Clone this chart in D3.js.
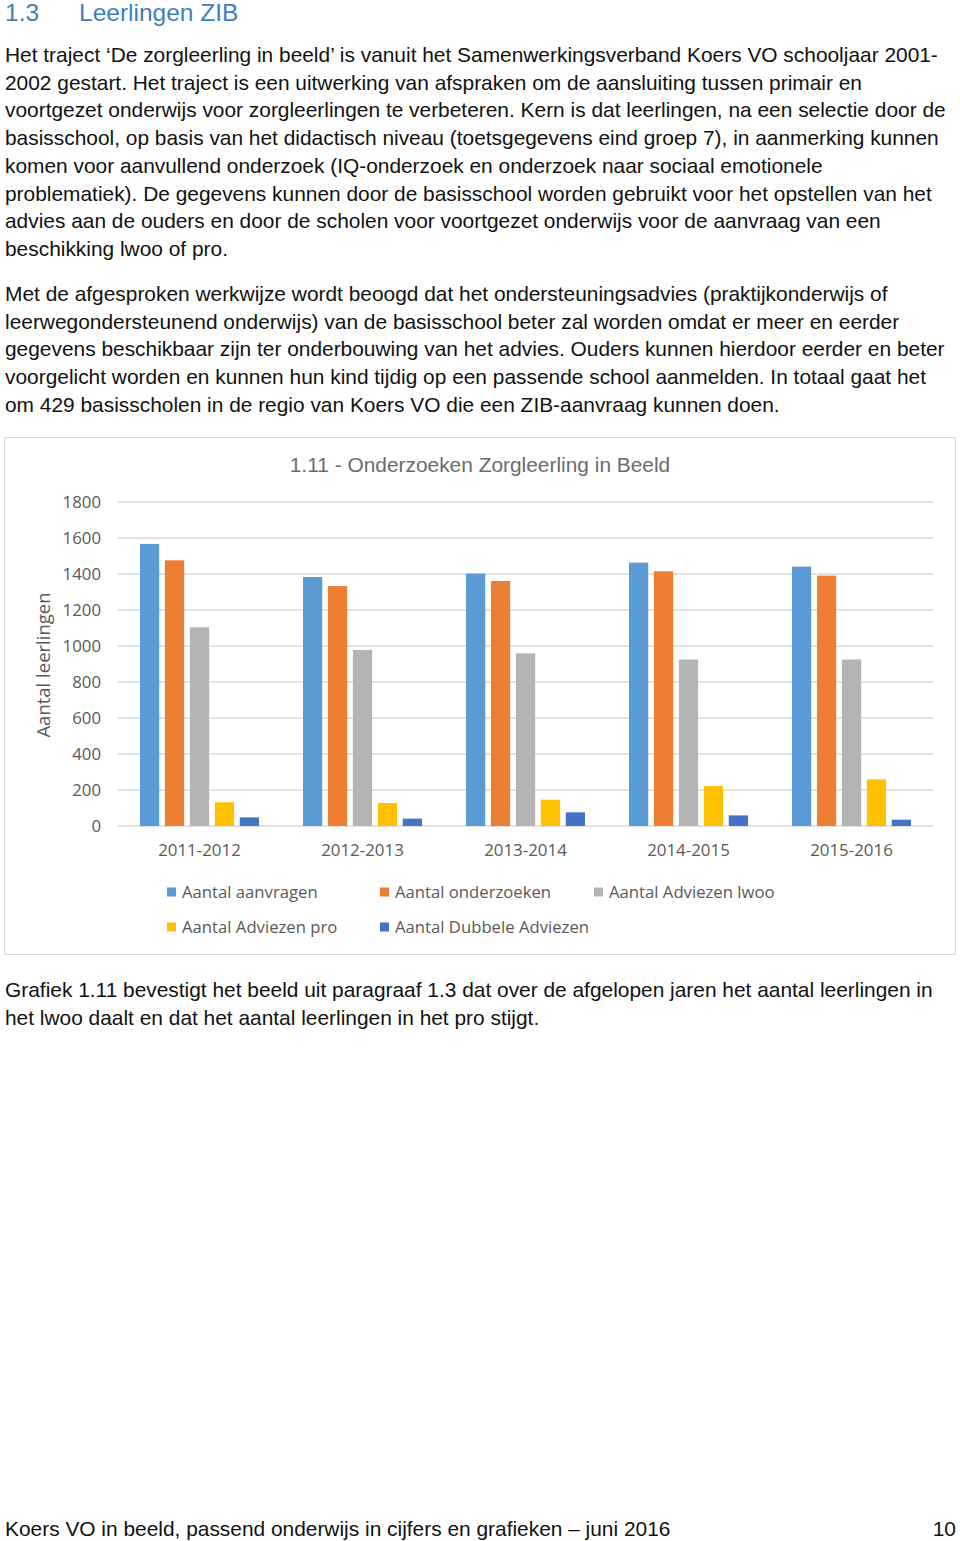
<!DOCTYPE html>
<html><head><meta charset="utf-8">
<script src="https://cdn.jsdelivr.net/npm/d3@7"></script>
<style>
body{margin:0;background:#fff;}
svg{display:block;}
</style></head>
<body>
<script>
// ---- data ----
const categories = ["2011-2012","2012-2013","2013-2014","2014-2015","2015-2016"];
const seriesNames = ["Aantal aanvragen","Aantal onderzoeken","Aantal Adviezen lwoo","Aantal Adviezen pro","Aantal Dubbele Adviezen"];
const aanvragen   = [1567, 1383, 1402, 1463, 1441];
const onderzoeken = [1476, 1333, 1361, 1415, 1391];
const lwoo        = [1104,  978,  959,  925,  925];
const pro         = [ 132,  128,  146,  222,  259];
const dubbele     = [  48,   41,   76,   59,   35];
const yTicks = [0,200,400,600,800,1000,1200,1400,1600,1800];
const seriesColors = ["#5b9bd5","#ed7d31","#b4b4b4","#ffc000","#4472c4"];

const heading = ["1.3", "Leerlingen ZIB"];
const para1 = [
 "Het traject ‘De zorgleerling in beeld’ is vanuit het Samenwerkingsverband Koers VO schooljaar 2001-",
 "2002 gestart. Het traject is een uitwerking van afspraken om de aansluiting tussen primair en",
 "voortgezet onderwijs voor zorgleerlingen te verbeteren. Kern is dat leerlingen, na een selectie door de",
 "basisschool, op basis van het didactisch niveau (toetsgegevens eind groep 7), in aanmerking kunnen",
 "komen voor aanvullend onderzoek (IQ-onderzoek en onderzoek naar sociaal emotionele",
 "problematiek). De gegevens kunnen door de basisschool worden gebruikt voor het opstellen van het",
 "advies aan de ouders en door de scholen voor voortgezet onderwijs voor de aanvraag van een",
 "beschikking lwoo of pro."
];
const para2 = [
 "Met de afgesproken werkwijze wordt beoogd dat het ondersteuningsadvies (praktijkonderwijs of",
 "leerwegondersteunend onderwijs) van de basisschool beter zal worden omdat er meer en eerder",
 "gegevens beschikbaar zijn ter onderbouwing van het advies. Ouders kunnen hierdoor eerder en beter",
 "voorgelicht worden en kunnen hun kind tijdig op een passende school aanmelden. In totaal gaat het",
 "om 429 basisscholen in de regio van Koers VO die een ZIB-aanvraag kunnen doen."
];
const para3 = [
 "Grafiek 1.11 bevestigt het beeld uit paragraaf 1.3 dat over de afgelopen jaren het aantal leerlingen in",
 "het lwoo daalt en dat het aantal leerlingen in het pro stijgt."
];
const chartTitle = "1.11 - Onderzoeken Zorgleerling in Beeld";
const yLabel = "Aantal leerlingen";
const footer = "Koers VO in beeld, passend onderwijs in cijfers en grafieken – juni 2016";
const pageNo = "10";

// ---- page ----
const W = 960, H = 1541;
const svg = d3.select("body").append("svg").attr("width", W).attr("height", H);
const bodyFont = "'Liberation Sans', Arial, Helvetica, sans-serif";
const chartFont = "'Open Sans', sans-serif";
const bodySize = 20.9;

svg.append("text").attr("x",5).attr("y",21).attr("font-family",bodyFont).attr("font-size",24.5)
  .attr("fill","#3d7ebf").text(heading[0]);
svg.append("text").attr("x",79).attr("y",21).attr("font-family",bodyFont).attr("font-size",24.5)
  .attr("fill","#3d7ebf").text(heading[1]);

function para(lines, y0){
  svg.append("g").selectAll("text").data(lines).join("text")
    .attr("x",5).attr("y",(d,i)=>y0 + i*27.7)
    .attr("font-family",bodyFont).attr("font-size",bodySize).attr("fill","#111")
    .text(d=>d);
}
para(para1, 62);
para(para2, 301);
para(para3, 997);

svg.append("text").attr("x",5).attr("y",1536).attr("font-family",bodyFont).attr("font-size",bodySize)
  .attr("fill","#111").text(footer);
svg.append("text").attr("x",956).attr("y",1536).attr("text-anchor","end").attr("font-family",bodyFont)
  .attr("font-size",bodySize).attr("fill","#111").text(pageNo);

// ---- chart ----
svg.append("rect").attr("x",4.5).attr("y",437.5).attr("width",951).attr("height",517)
  .attr("fill","#fff").attr("stroke","#d9d9d9").attr("stroke-width",1);

svg.append("text").attr("x",480).attr("y",472).attr("text-anchor","middle")
  .attr("font-family",bodyFont).attr("font-size",20.9).attr("fill","#6b6b6b").text(chartTitle);

const x0 = d3.scaleBand().domain(categories).range([118,933]).paddingInner(0).paddingOuter(0);
const x1 = d3.scaleBand().domain(d3.range(seriesNames.length)).range([22, x0.bandwidth()-22]).paddingInner(0.23).paddingOuter(0);
const y = d3.scaleLinear().domain([0,1800]).range([826,502]);

const gy = svg.append("g");
gy.selectAll("line").data(yTicks).join("line")
  .attr("x1",118).attr("x2",933).attr("y1",d=>y(d)).attr("y2",d=>y(d))
  .attr("stroke","#d9d9d9").attr("stroke-width",1.3);
gy.selectAll("text").data(yTicks).join("text")
  .attr("x",101).attr("y",d=>y(d)).attr("dy","0.35em").attr("text-anchor","end")
  .attr("font-family",chartFont).attr("font-size",16.8).attr("fill","#595959").text(d=>d);

svg.append("text").attr("transform","translate(50,665) rotate(-90)").attr("text-anchor","middle")
  .attr("font-family",chartFont).attr("font-size",18.5).attr("fill","#595959").text(yLabel);

const allSeries = [aanvragen, onderzoeken, lwoo, pro, dubbele];
const groups = svg.append("g").selectAll("g").data(categories).join("g")
  .attr("transform",d=>`translate(${x0(d)},0)`);
groups.selectAll("rect").data((c,ci)=>allSeries.map((s,si)=>({si, v:s[ci]}))).join("rect")
  .attr("x",d=>x1(d.si)).attr("width",x1.bandwidth())
  .attr("y",d=>y(d.v)).attr("height",d=>y(0)-y(d.v))
  .attr("fill",d=>seriesColors[d.si]);

svg.append("g").selectAll("text").data(categories).join("text")
  .attr("x",d=>x0(d)+x0.bandwidth()/2).attr("y",856).attr("text-anchor","middle")
  .attr("font-family",chartFont).attr("font-size",16.9).attr("fill","#595959").text(d=>d);

// legend
const legPos = [[167,892],[380,892],[594,892],[167,927],[380,927]];
const leg = svg.append("g").selectAll("g").data(seriesNames).join("g")
  .attr("transform",(d,i)=>`translate(${legPos[i][0]},${legPos[i][1]})`);
leg.append("rect").attr("x",0).attr("y",-4.5).attr("width",9).attr("height",9)
  .attr("fill",(d,i)=>seriesColors[i]);
leg.append("text").attr("x",15).attr("y",0).attr("dy","0.35em")
  .attr("font-family",chartFont).attr("font-size",16.7).attr("fill","#595959").text(d=>d);
</script>
</body></html>
